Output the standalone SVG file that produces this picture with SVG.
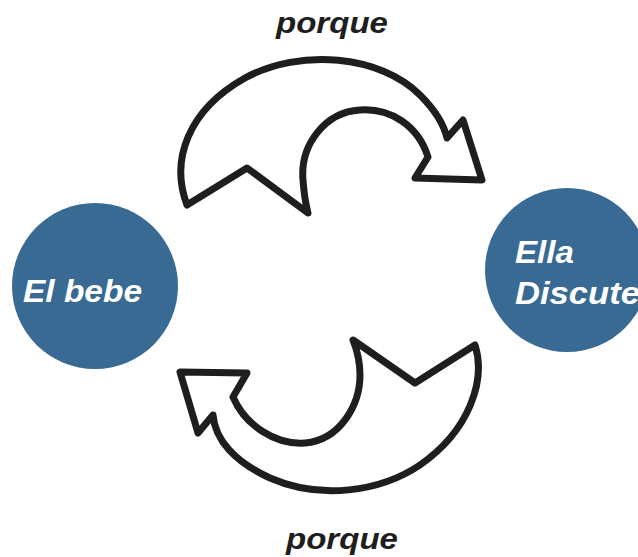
<svg xmlns="http://www.w3.org/2000/svg" width="638" height="557" viewBox="0 0 638 557">
<style>
.node{fill:#386a94}
.nt{fill:#ffffff;font-family:"Liberation Sans",Arial,sans-serif;font-weight:bold;font-style:italic;font-size:32px}
.lbl{fill:#1e1e1e;font-family:"Liberation Sans",Arial,sans-serif;font-weight:bold;font-style:italic;font-size:30px}
.arrow{fill:#ffffff;stroke:#1e1e1e;stroke-width:7;stroke-linejoin:round;stroke-linecap:round}
</style>
<rect width="638" height="557" fill="#ffffff"/>
<g id="node-elbebe">
<circle class="node" cx="95" cy="286" r="83"/>
<text class="nt" x="23" y="302" textLength="119" lengthAdjust="spacingAndGlyphs">El bebe</text>
</g>
<g id="node-ella">
<circle class="node" cx="567" cy="270" r="82"/>
<text class="nt" x="515" y="263" textLength="59" lengthAdjust="spacingAndGlyphs">Ella</text>
<text class="nt" x="515" y="304" textLength="125" lengthAdjust="spacingAndGlyphs">Discute</text>
</g>
<g id="connectors">
<path class="arrow" d="M187,205 C170,160 188,110 245,78 C300,48 380,55 420,95 C435,110 444,125 447,138 L463,120 L482,180 L415,178 L428,157 C418,125 390,108 360,110 C325,112 300,145 303,180 C304,195 306,205 308,213 L247,168 Z"/>
<text class="lbl" x="276" y="33" textLength="112" lengthAdjust="spacingAndGlyphs">porque</text>
<path class="arrow" d="M475,345 C486,380 470,430 420,465 C380,492 320,500 270,478 C235,462 215,440 213,415 L198,433 L180,372 L247,373 L233,397 C245,425 275,445 305,443 C340,440 360,405 360,375 C360,360 357,350 353,340 L415,383 Z"/>
<text class="lbl" x="286" y="549" textLength="112" lengthAdjust="spacingAndGlyphs">porque</text>
</g>
</svg>
